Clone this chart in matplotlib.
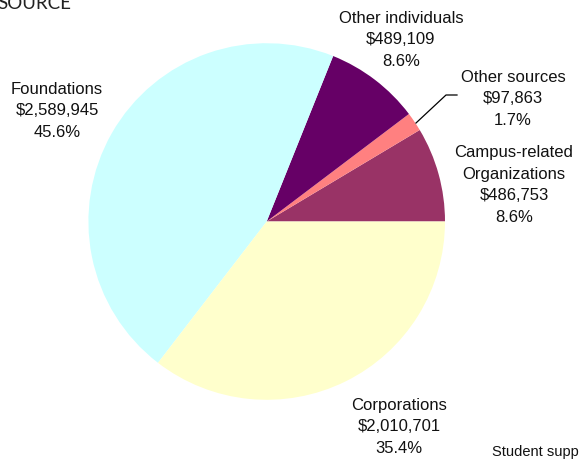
import matplotlib
matplotlib.use("Agg")
import matplotlib.pyplot as plt

W, H = 579, 460

# gift totals by source, counter-clockwise from 3 o'clock
sources = ["Campus-related\nOrganizations", "Other sources", "Other individuals", "Foundations", "Corporations"]
amounts = [486753, 97863, 489109, 2589945, 2010701]
shares = [8.6, 1.7, 8.6, 45.6, 35.4]
colors = ["#993366", "#FF8080", "#660066", "#CCFFFF", "#FFFFCC"]

# label anchors (pixels from top-left, baseline of the last line)
label_pos = [(514, 222), (513, 125), (401, 66), (57, 137), (399, 453)]


def fx(x):
  return x / W


def fy(y):
  return 1 - y / H


plt.rcParams["font.family"] = ["Liberation Sans", "DejaVu Sans"]

fig = plt.figure(figsize=(W / 100, H / 100), dpi=100)
fig.patch.set_facecolor("white")

cx, cy, r = 266.7, 222.5, 178.3
ax = fig.add_axes([fx(cx - r), fy(cy + r), 2 * r / W, 2 * r / H])
ax.pie(amounts, colors=colors, startangle=0, counterclock=True, radius=1,
       wedgeprops=dict(linewidth=0))
ax.set_xlim(-1, 1)
ax.set_ylim(-1, 1)
ax.set_aspect("equal")
ax.axis("off")

for name, amt, pct, (x, y) in zip(sources, amounts, shares, label_pos):
  txt = "%s\n$%s\n%.1f%%" % (name, format(amt, ","), pct)
  fig.text(fx(x), fy(y), txt, ha="center", va="baseline", fontsize=12,
           linespacing=1.55, color="#111111")

# leader line for the small slice
fig.add_artist(plt.Line2D([fx(416), fx(446), fx(457)], [fy(124), fy(96), fy(96)],
                          color="black", lw=0.9))

fig.text(fx(-3), fy(9), "SOURCE", ha="left", va="baseline", fontsize=13.5,
         family=["Lato", "DejaVu Sans"], color="#222222")
fig.text(fx(492), fy(456), "Student support", ha="left", va="baseline", fontsize=10.5,
         color="#111111")

fig.savefig("out.png", dpi=100)
